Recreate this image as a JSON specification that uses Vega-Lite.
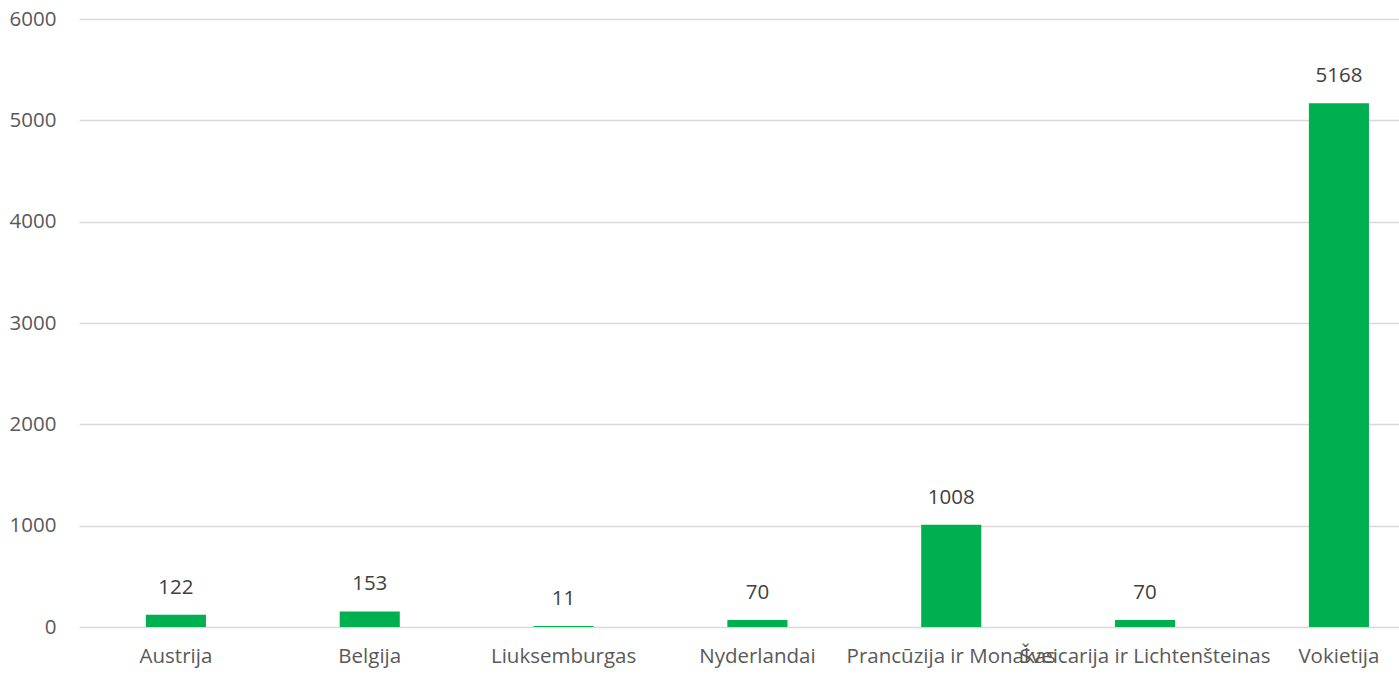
{
  "$schema": "https://vega.github.io/schema/vega-lite/v6.json",
  "width": 1320,
  "height": 608,
  "autosize": "none",
  "padding": {"left": 79, "top": 19, "right": 0, "bottom": 48},
  "background": "white",
  "config": {"view": {"stroke": null}, "font": "Open Sans"},
  "data": {"values": [
    {"country": "Austrija", "value": 122},
    {"country": "Belgija", "value": 153},
    {"country": "Liuksemburgas", "value": 11},
    {"country": "Nyderlandai", "value": 70},
    {"country": "Prancūzija ir Monakas", "value": 1008},
    {"country": "Šveicarija ir Lichtenšteinas", "value": 70},
    {"country": "Vokietija", "value": 5168}
  ]},
  "encoding": {
    "x": {"field": "country", "type": "nominal", "sort": null,
      "scale": {"paddingInner": 0.69, "paddingOuter": 0.25, "align": 0.69},
      "axis": {"title": null, "labelAngle": 0, "labelOverlap": false, "labelLimit": 0, "labelFont": "Open Sans", "labelFontSize": 20.5, "labelColor": "#595959", "ticks": false, "domain": false, "labelPadding": 19}},
    "y": {"field": "value", "type": "quantitative",
      "scale": {"domain": [0, 6000]},
      "axis": {"title": null, "values": [0,1000,2000,3000,4000,5000,6000], "format": "d", "labelFont": "Open Sans", "labelFontSize": 20.5, "labelColor": "#595959", "ticks": false, "domain": false, "labelPadding": 23, "gridColor": "#d9d9d9", "gridWidth": 1.5}}
  },
  "layer": [
    {"mark": {"type": "bar", "color": "#00b050"}},
    {"mark": {"type": "text", "dy": -27, "fontSize": 20.5, "color": "#404040", "font": "Open Sans"},
     "encoding": {"text": {"field": "value", "type": "quantitative", "format": "d"}}}
  ]
}
